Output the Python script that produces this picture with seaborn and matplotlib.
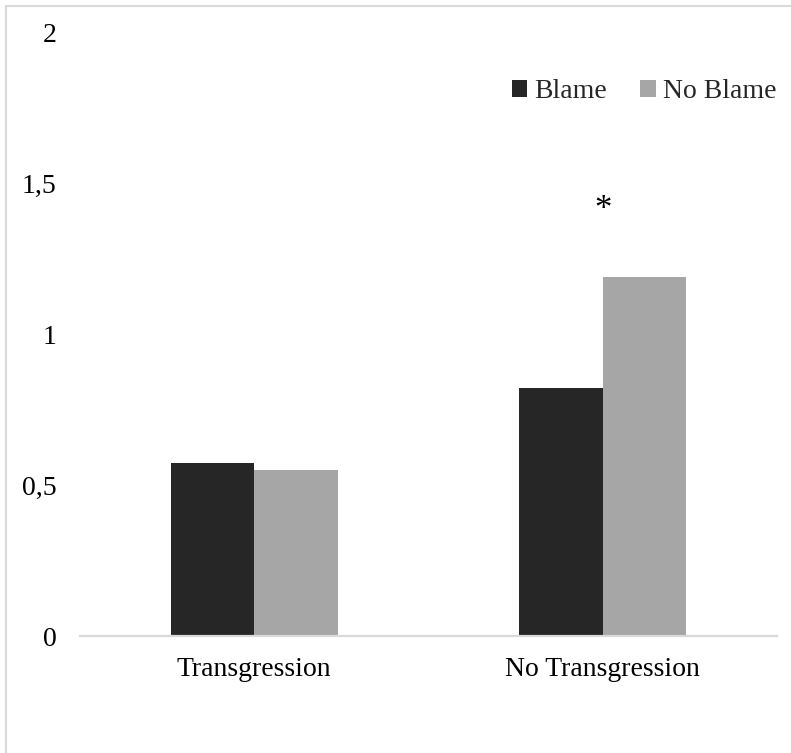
import matplotlib
matplotlib.use("Agg")
import matplotlib.pyplot as plt
from matplotlib.lines import Line2D
from matplotlib.patches import Patch
import seaborn as sns
import pandas as pd

categories = ["Transgression", "No Transgression"]
conditions = ["Blame", "No Blame"]
blame = [0.572, 0.821]
no_blame = [0.549, 1.189]
yticks = [0, 0.5, 1, 1.5, 2]
ytick_labels = ["0", "0,5", "1", "1,5", "2"]
colors = ["#262626", "#a6a6a6"]

df = pd.DataFrame({
    "category": categories * 2,
    "condition": [conditions[0]] * 2 + [conditions[1]] * 2,
    "value": blame + no_blame,
})

sns.set_theme(style="white")
plt.rcParams["font.family"] = ["Liberation Serif", "DejaVu Serif"]

W, H = 791, 753
fig = plt.figure(figsize=(W / 100, H / 100), dpi=100)
ax = fig.add_axes([80 / W, 1 - 636 / H, (777 - 80) / W, (636 - 32) / H])

sns.barplot(data=df, x="category", y="value", hue="condition", order=categories,
            hue_order=conditions, palette=colors, width=0.48, saturation=1,
            linewidth=0, errorbar=None, ax=ax, legend=False)

ax.set_xlim(-0.5, 1.5)
ax.set_ylim(0, 2)
ax.set_yticks(yticks)
ax.set_yticklabels(ytick_labels)
ax.set_xlabel("")
ax.set_ylabel("")
ax.tick_params(axis="both", length=0, labelsize=20, colors="black")
ax.tick_params(axis="y", pad=17)
ax.tick_params(axis="x", pad=15)
for s in ["top", "right", "left"]:
    ax.spines[s].set_visible(False)
ax.spines["bottom"].set_color("#d9d9d9")
ax.spines["bottom"].set_linewidth(1.6)
for lbl in ax.get_yticklabels():
    lbl.set_horizontalalignment("right")

ax.text(1.0, 1.41, "*", ha="center", va="center", fontsize=25, color="black")

handles = [Patch(facecolor=c, edgecolor="none", label=l) for c, l in zip(colors, conditions)]
fig.legend(handles=handles, loc="center", bbox_to_anchor=(644 / W, 1 - 92 / H), ncol=2,
           frameon=False, fontsize=20, handlelength=0.55, handleheight=0.55,
           handletextpad=0.25, columnspacing=1.2, borderpad=0)

# chart border (left and top only visible)
fig.add_artist(Line2D([6.5 / W, 6.5 / W], [0, 1 - 5.5 / H], transform=fig.transFigure,
                      color="#d9d9d9", lw=1.5))
fig.add_artist(Line2D([6.5 / W, 1], [1 - 5.5 / H, 1 - 5.5 / H], transform=fig.transFigure,
                      color="#d9d9d9", lw=1.5))

fig.savefig("out.png", dpi=100, facecolor="white")
